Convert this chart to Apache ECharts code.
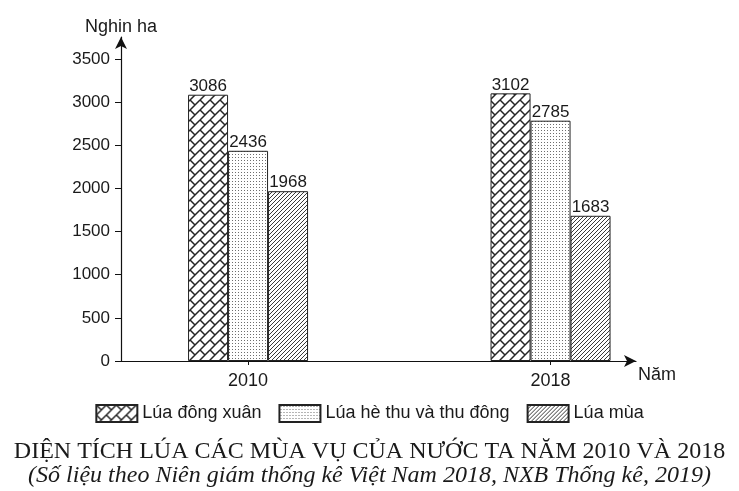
<!DOCTYPE html>
<html>
<head>
<meta charset="utf-8">
<script src="https://cdn.jsdelivr.net/npm/echarts@6/dist/echarts.min.js"></script>
<style>
html, body { margin: 0; padding: 0; background: #fff; }
#chart { width: 739px; height: 491px; }
</style>
</head>
<body>
<div id="chart"></div>
<script>
// du lieu
var years = [2010, 2018]
var seriesNames = ['Lúa đông xuân', 'Lúa hè thu và thu đông', 'Lúa mùa']
var dongXuan = [3086, 3102]
var heThu = [2436, 2785]
var luaMua = [1968, 1683]
var yTicks = [0, 500, 1000, 1500, 2000, 2500, 3000, 3500]

var FONT = 'Liberation Sans, Arial, sans-serif'
var SERIF = 'Liberation Serif, Times New Roman, serif'
var INK = '#1a1a1a'

// hoa van to mau cot
function makeTile(size, draw) {
    var c = document.createElement('canvas')
    c.width = size
    c.height = size
    var ctx = c.getContext('2d')
    ctx.fillStyle = '#fff'
    ctx.fillRect(0, 0, size, size)
    draw(ctx, size)
    return c
}

function brickTile() {
    return makeTile(10, function (ctx, s) {
        ctx.strokeStyle = '#262626'
        ctx.lineWidth = 1.5
        for (var dx = -s; dx <= s; dx += s) {
            for (var dy = -s; dy <= s; dy += s) {
                ctx.beginPath()
                ctx.moveTo(dx, dy + s)
                ctx.lineTo(dx + s, dy)
                ctx.moveTo(dx, dy)
                ctx.lineTo(dx + s / 2, dy + s / 2)
                ctx.stroke()
            }
        }
    })
}

function dotTile() {
    return makeTile(3, function (ctx) {
        ctx.fillStyle = '#6e6e6e'
        ctx.fillRect(1, 1, 1, 1)
    })
}

function hatchTile() {
    return makeTile(4, function (ctx, s) {
        ctx.strokeStyle = '#3a3a3a'
        ctx.lineWidth = 1
        for (var dx = -s; dx <= s; dx += s) {
            ctx.beginPath()
            ctx.moveTo(dx, s)
            ctx.lineTo(dx + s, 0)
            ctx.stroke()
        }
    })
}

var patterns = [brickTile(), dotTile(), hatchTile()]
var values = [dongXuan, heThu, luaMua]

function pairs(arr) {
    var out = []
    for (var i = 0; i < years.length; i++) out.push([years[i], arr[i]])
    return out
}

var series = []
for (var k = 0; k < seriesNames.length; k++) {
    series.push({
        name: seriesNames[k],
        type: 'bar',
        barWidth: 40,
        barGap: '0%',
        data: pairs(values[k]),
        itemStyle: {
            color: { image: patterns[k], repeat: 'repeat' },
            borderColor: '#222',
            borderWidth: 1
        },
        label: {
            show: true,
            position: 'top',
            distance: 0,
            color: INK,
            fontFamily: FONT,
            fontSize: 17,
            formatter: function (p) { return p.value[1] }
        }
    })
}

var chart = echarts.init(document.getElementById('chart'))
var option = {
    animation: false,
    backgroundColor: '#fff',
    title: {
        left: 'center',
        top: 435,
        text: 'DIỆN TÍCH LÚA CÁC MÙA VỤ CỦA NƯỚC TA NĂM 2010 VÀ 2018',
        subtext: '(Số liệu theo Niên giám thống kê Việt Nam 2018, NXB Thống kê, 2019)',
        itemGap: 0,
        textStyle: {
            fontFamily: SERIF,
            fontWeight: 'normal',
            fontSize: 24,
            color: INK
        },
        subtextStyle: {
            fontFamily: SERIF,
            fontStyle: 'italic',
            fontSize: 24,
            color: INK
        }
    },
    legend: {
        data: seriesNames,
        left: 'center',
        top: 399,
        icon: 'rect',
        itemWidth: 41,
        itemHeight: 17,
        itemGap: 17,
        textStyle: { fontFamily: FONT, fontSize: 18, color: INK }
    },
    grid: { left: 121, right: 103, top: 37, bottom: 130 },
    xAxis: {
        type: 'value',
        min: 2006.64,
        max: 2020.26,
        name: 'Năm',
        nameLocation: 'end',
        nameGap: 2,
        nameTextStyle: {
            fontFamily: FONT, fontSize: 18, color: INK,
            verticalAlign: 'top', padding: [5, 0, 0, 0]
        },
        splitLine: { show: false },
        axisLine: {
            lineStyle: { color: '#111', width: 1.2 },
            symbol: ['none', 'arrow'],
            symbolSize: [9, 12]
        },
        axisTick: { show: true, customValues: years, length: 4, lineStyle: { color: '#111' } },
        axisLabel: {
            customValues: years,
            margin: 11,
            color: INK,
            fontFamily: FONT,
            fontSize: 18,
            formatter: function (v) { return String(Math.round(v)) }
        }
    },
    yAxis: {
        type: 'value',
        min: 0,
        max: 3755,
        name: 'Nghin ha',
        nameLocation: 'end',
        nameGap: 1,
        nameTextStyle: { fontFamily: FONT, fontSize: 18, color: INK, align: 'center' },
        splitLine: { show: false },
        axisLine: {
            show: true,
            lineStyle: { color: '#111', width: 1.2 },
            symbol: ['none', 'arrow'],
            symbolSize: [9, 12]
        },
        axisTick: { show: true, customValues: yTicks, length: 6, lineStyle: { color: '#111' } },
        axisLabel: {
            customValues: yTicks,
            margin: 11,
            color: INK,
            fontFamily: FONT,
            fontSize: 17,
            formatter: function (v) { return String(v) }
        }
    },
    series: series
}
chart.setOption(option)
</script>
</body>
</html>
